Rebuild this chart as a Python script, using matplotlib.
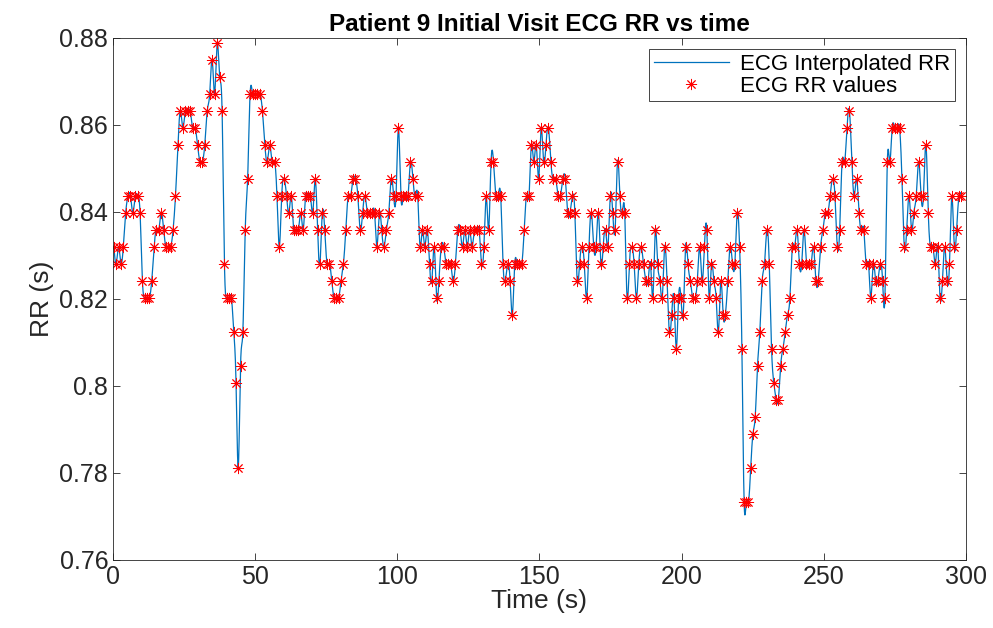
import numpy as np
import matplotlib as mpl
mpl.use('Agg')
import matplotlib.pyplot as plt
from matplotlib.ticker import FuncFormatter

################################################################################

# RR intervals, in ticks of 1/256 s, ~25 s per chunk
rr_a = [213, 212, 213, 212, 213, 215, 216, 216, 215, 216, 216, 215, 211, 210, 210, 210,
        211, 213, 214, 214, 215, 214, 213, 213, 213, 214, 216, 219, 221, 220, 221]
rr_b = [221, 221, 220, 220, 219, 218, 218, 219, 221, 222, 224, 222, 225, 223, 221, 212,
        210, 210, 210, 208, 205, 200, 206, 208, 214, 217, 222, 222, 222, 222]
rr_c = [222, 221, 219, 218, 219, 218, 218, 216, 213, 216, 217, 216, 215, 216, 214, 214,
        214, 215, 214, 216, 216, 216, 215, 217, 214, 212, 215, 214, 212]
rr_d = [212, 211, 210, 210, 210, 211, 212, 214, 216, 216, 217, 217, 216, 214, 215, 216,
        215, 215, 215, 215, 213, 215, 214, 213, 214, 215, 217, 216, 216, 220, 216]
rr_e = [216, 216, 216, 218, 217, 216, 216, 213, 214, 213, 214, 212, 211, 213, 210, 211,
        213, 213, 212, 212, 212, 211, 212, 214, 214, 213, 214, 213, 214, 213]
rr_f = [214, 214, 214, 212, 213, 216, 214, 218, 218, 216, 216, 216, 212, 211, 212, 211,
        209, 212, 212, 212, 212, 214, 216, 216, 219, 218, 219, 217, 220, 218, 219]
rr_g = [220, 218, 217, 217, 216, 216, 217, 217, 215, 215, 216, 215, 211, 212, 213, 212,
        210, 213, 215, 213, 213, 215, 212, 213, 214, 213, 216, 215, 214, 218]
rr_h = [216, 215, 215, 210, 212, 213, 212, 210, 212, 213, 212, 211, 211, 212, 210, 214,
        212, 211, 210, 213, 211, 208, 209, 210, 207, 210, 210, 209, 213]
rr_i = [212, 211, 210, 210, 211, 213, 211, 213, 214, 210, 212, 211, 210, 208, 211, 209,
        209, 211, 213, 212, 212, 215, 213, 207, 198, 198, 198, 200, 202, 203]
rr_j = [206, 208, 211, 212, 214, 212, 207, 205, 204, 204, 206, 207, 208, 209, 210, 213,
        213, 214, 212, 212, 214, 212, 212, 212, 213, 211, 211, 213, 214, 215]
rr_k = [215, 216, 217, 216, 213, 214, 218, 218, 220, 221, 218, 216, 217, 215, 214, 214,
        212, 212, 210, 212, 211, 211, 212, 211, 210, 218, 218, 220, 220]
rr_l = [220, 220, 217, 213, 214, 216, 214, 215, 216, 218, 216, 216, 219, 215, 213, 213,
        212, 213, 210, 211, 213, 211, 212, 216, 213, 214, 216, 216]

t_first = 0.3  # time of first beat (s)

title = "Patient 9 Initial Visit ECG RR vs time"
x_ticks = [0, 50, 100, 150, 200, 250, 300]
y_ticks = [0.76, 0.78, 0.80, 0.82, 0.84, 0.86, 0.88]

################################################################################

rr = np.array(rr_a + rr_b + rr_c + rr_d + rr_e + rr_f +
              rr_g + rr_h + rr_i + rr_j + rr_k + rr_l) / 256.0
t = t_first + np.cumsum(rr) - rr[0]


def natural_spline(x, y, xs):
    n = len(x)
    h = np.diff(x)
    A = np.zeros((n, n))
    rhs = np.zeros(n)
    A[0, 0] = 1
    A[-1, -1] = 1
    for i in range(1, n - 1):
        A[i, i - 1] = h[i - 1]
        A[i, i] = 2 * (h[i - 1] + h[i])
        A[i, i + 1] = h[i]
        rhs[i] = 3 * ((y[i + 1] - y[i]) / h[i] - (y[i] - y[i - 1]) / h[i - 1])
    c = np.linalg.solve(A, rhs)
    b = (y[1:] - y[:-1]) / h - h * (2 * c[:-1] + c[1:]) / 3
    d = (c[1:] - c[:-1]) / (3 * h)
    idx = np.clip(np.searchsorted(x, xs) - 1, 0, n - 2)
    dx = xs - x[idx]
    return y[idx] + b[idx] * dx + c[idx] * dx**2 + d[idx] * dx**3


t_fine = np.arange(t[0], t[-1], 0.05)
rr_fine = natural_spline(t, rr, t_fine)

################################################################################

plt.rcParams['font.family'] = ['Liberation Sans', 'DejaVu Sans']

fig = plt.figure(figsize=(9.93, 6.28), dpi=100)
ax = fig.add_axes([0.1138, 0.1083, 0.859, 0.8312])

ax.plot(t_fine, rr_fine, color="#0072BD", lw=0.9, label="ECG Interpolated RR")
ax.plot(t, rr, ls="none", marker=(8, 2, 0), color="red", ms=8, mew=0.65,
        label="ECG RR values")

ax.set_xlim(0, 300)
ax.set_ylim(0.76, 0.88)
ax.set_xticks(x_ticks)
ax.set_yticks(y_ticks)
ax.yaxis.set_major_formatter(FuncFormatter(lambda v, p: "%g" % round(v, 2)))
ax.tick_params(direction="in", top=True, right=True, labelsize=18,
               length=5, width=0.6, color="#262626", labelcolor="#262626")
for s in ax.spines.values():
    s.set_color("#262626")
    s.set_linewidth(0.6)

ax.set_xlabel("Time (s)", fontsize=19, color="#262626", labelpad=0)
ax.set_ylabel("RR (s)", fontsize=19, color="#262626", labelpad=4)
ax.set_title(title, fontsize=17.5, fontweight="bold", pad=5)

leg = ax.legend(loc="upper right", fontsize=16, fancybox=False, framealpha=1,
                edgecolor="#262626", borderaxespad=0.5, handlelength=3.4,
                borderpad=0.2, labelspacing=0.05, handletextpad=0.5)
leg.get_frame().set_linewidth(0.6)

fig.savefig("out.png", dpi=100)
